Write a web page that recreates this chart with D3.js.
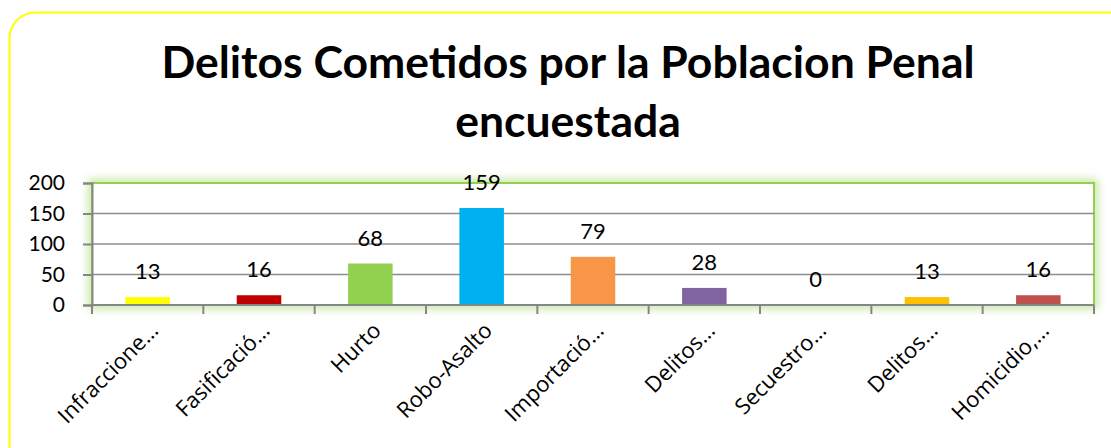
<!DOCTYPE html>
<html>
<head>
<meta charset="utf-8">
<script src="https://cdn.jsdelivr.net/npm/d3@7"></script>
<style>
  html, body { margin: 0; padding: 0; background: #fff; }
  svg { display: block; font-family: Lato, "Noto Sans", sans-serif; }
</style>
</head>
<body>
<div class="chart"></div>
<script>
// datos del grafico
const categories = ["Infraccione…", "Fasificació…", "Hurto", "Robo-Asalto", "Importació…",
    "Delitos…", "Secuestro…", "Delitos…", "Homicidio,…"];
const values = [13, 16, 68, 159, 79, 28, 0, 13, 16];
const barColors = ["#FFFF00", "#C00000", "#92D050", "#00B0F0", "#F79646",
    "#8064A2", "#4BACC6", "#FFC000", "#C0504D"];
const yTicks = [0, 50, 100, 150, 200];
const titleLines = ["Delitos Cometidos por la Poblacion Penal", "encuestada"];

const width = 1111, height = 448;
const plot = { left: 92, right: 1094, top: 183, bottom: 305 };

const svg = d3.select(".chart").append("svg")
    .attr("width", width)
    .attr("height", height);

// brillo verde alrededor del area de trazado
const defs = svg.append("defs");
const glow = defs.append("filter")
    .attr("id", "glow")
    .attr("x", "-10%").attr("y", "-30%")
    .attr("width", "120%").attr("height", "160%");
glow.append("feGaussianBlur")
    .attr("stdDeviation", 4);

// marco exterior
svg.append("rect")
    .attr("x", 9.5).attr("y", 12.5)
    .attr("width", 1130).attr("height", 460)
    .attr("rx", 26).attr("ry", 26)
    .style("fill", "#fff")
    .style("stroke", "#FFFF00")
    .style("stroke-width", 2);

// titulo
svg.append("g")
    .selectAll("text")
    .data(titleLines)
    .enter()
    .append("text")
    .attr("x", 568)
    .attr("y", (d, i) => 78 + i * 59)
    .attr("text-anchor", "middle")
    .style("font-size", "44.5px")
    .style("font-weight", "bold")
    .style("fill", "#000")
    .text(d => d);

// escalas
const x = d3.scaleBand()
    .domain(d3.range(categories.length))
    .range([plot.left, plot.right])
    .paddingInner(0.6)
    .paddingOuter(0.3);

const y = d3.scaleLinear()
    .domain([0, 200])
    .range([plot.bottom, plot.top]);

// area de trazado
svg.append("rect")
    .attr("x", plot.left).attr("y", plot.top)
    .attr("width", plot.right - plot.left)
    .attr("height", plot.bottom - plot.top)
    .style("fill", "none")
    .style("stroke", "#92D050")
    .style("stroke-width", 7)
    .style("opacity", 0.6)
    .attr("filter", "url(#glow)");

svg.append("rect")
    .attr("x", plot.left).attr("y", plot.top)
    .attr("width", plot.right - plot.left)
    .attr("height", plot.bottom - plot.top)
    .style("fill", "#fff")
    .style("stroke", "#92D050")
    .style("stroke-width", 2);

// lineas de cuadricula
svg.append("g")
    .selectAll("line")
    .data(yTicks.filter(d => d > 0 && d < 200))
    .enter()
    .append("line")
    .attr("x1", plot.left).attr("x2", plot.right)
    .attr("y1", d => y(d)).attr("y2", d => y(d))
    .style("stroke", "#8C8C8C")
    .style("stroke-width", 1.5);

// eje Y
const yAxis = svg.append("g")
    .attr("transform", `translate(${plot.left},0)`)
    .call(d3.axisLeft(y).tickValues(yTicks).tickSize(9).tickPadding(18));
yAxis.select(".domain").style("stroke", "#868686").style("stroke-width", 2);
yAxis.selectAll(".tick line").style("stroke", "#868686").style("stroke-width", 2);
yAxis.selectAll(".tick text")
    .style("font-size", "21px")
    .style("font-family", "Lato, 'Noto Sans', sans-serif")
    .style("fill", "#000");

// barras
svg.append("g")
    .selectAll("rect")
    .data(values)
    .enter()
    .append("rect")
    .attr("x", (d, i) => x(i))
    .attr("y", d => y(d))
    .attr("width", x.bandwidth())
    .attr("height", d => y(0) - y(d))
    .style("fill", (d, i) => barColors[i]);

// etiquetas de valor
svg.append("g")
    .selectAll("text")
    .data(values)
    .enter()
    .append("text")
    .attr("x", (d, i) => x(i) + x.bandwidth() / 2)
    .attr("y", d => y(d) - 18)
    .attr("text-anchor", "middle")
    .style("font-size", "22px")
    .style("fill", "#000")
    .text(d => d);

// eje X con marcas entre categorias
const step = x.step();
const bounds = d3.range(categories.length + 1).map(i => plot.left + i * step);
const xAxis = svg.append("g");
xAxis.append("line")
    .attr("x1", plot.left).attr("x2", plot.right)
    .attr("y1", plot.bottom).attr("y2", plot.bottom)
    .style("stroke", "#868686")
    .style("stroke-width", 2);
xAxis.selectAll(".xtick")
    .data(bounds)
    .enter()
    .append("line")
    .attr("class", "xtick")
    .attr("x1", d => d).attr("x2", d => d)
    .attr("y1", plot.bottom).attr("y2", plot.bottom + 9)
    .style("stroke", "#868686")
    .style("stroke-width", 2);

xAxis.selectAll(".xlabel")
    .data(categories)
    .enter()
    .append("text")
    .attr("class", "xlabel")
    .attr("transform", (d, i) =>
        `translate(${x(i) + x.bandwidth() / 2 + 12},${plot.bottom + 27}) rotate(-45)`)
    .attr("text-anchor", "end")
    .style("font-family", "'Open Sans', 'DejaVu Sans', sans-serif")
    .style("font-size", "22px")
    .style("fill", "#000")
    .text(d => d);
</script>
</body>
</html>
